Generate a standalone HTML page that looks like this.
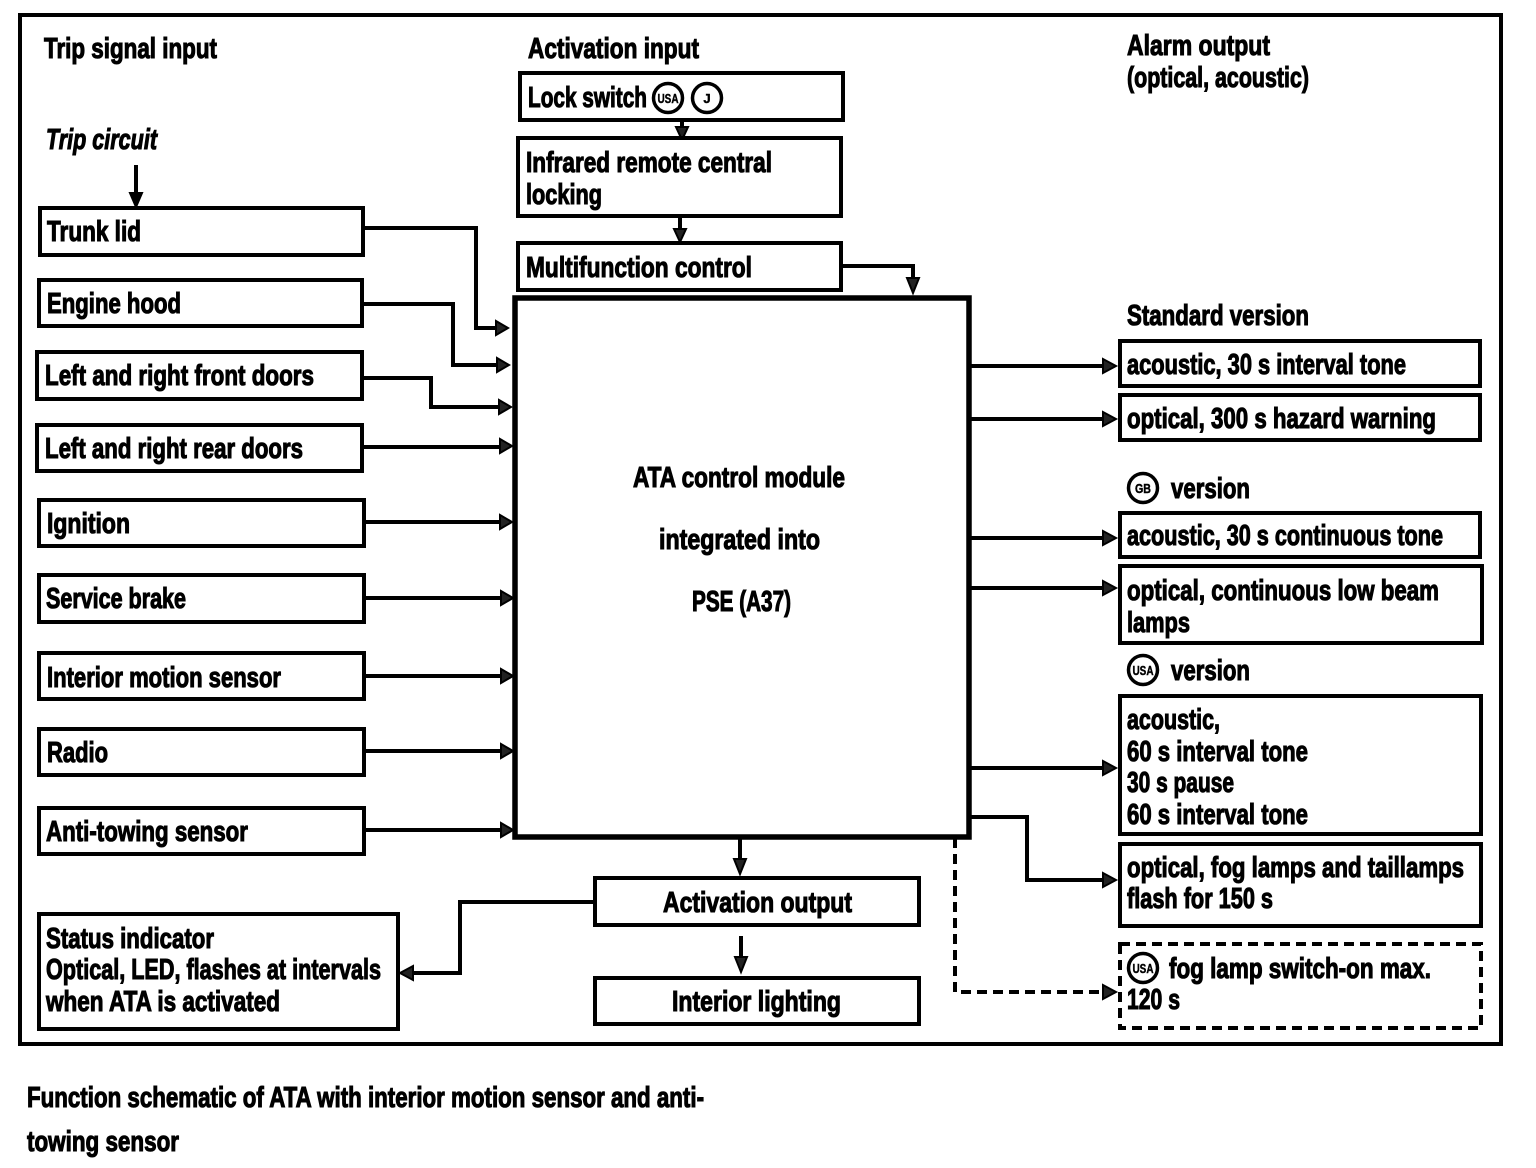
<!DOCTYPE html>
<html><head><meta charset="utf-8"><style>
html,body{margin:0;padding:0;background:#fff}
svg{display:block}
text{font-family:"Liberation Sans",sans-serif;font-weight:bold;font-size:29px;fill:#000;stroke:#000;stroke-width:1.1px}
.b{fill:#fff;stroke:#000;stroke-width:4}
.l{fill:none;stroke:#000;stroke-width:4}
.d{fill:none;stroke:#000;stroke-width:4;stroke-dasharray:10 6}
.a{fill:#222;stroke:#000;stroke-width:2}
.c{fill:#fff;stroke:#000;stroke-width:3.5}
.s{font-size:13px;stroke-width:.4px}
</style></head><body>
<svg width="1536" height="1168" viewBox="0 0 1536 1168" xmlns="http://www.w3.org/2000/svg">
<rect x="20" y="15" width="1481" height="1029" fill="#fff" stroke="#000" stroke-width="4"/>
<g class="conn">
<path class="l" d="M363 228H476V328H496"/>
<path class="l" d="M363 304H453V365H497"/>
<path class="l" d="M363 378H431V407H499"/>
<path class="l" d="M363 447H500"/>
<path class="l" d="M364 522H500"/>
<path class="l" d="M364 598H502"/>
<path class="l" d="M364 676H502"/>
<path class="l" d="M364 751H502"/>
<path class="l" d="M364 830H502"/>
<path class="l" d="M136 165V195"/>
<path class="l" d="M682 120V130"/>
<path class="l" d="M680 216V230"/>
<path class="l" d="M842 266H913V280"/>
<path class="l" d="M970 366H1104"/>
<path class="l" d="M970 419H1104"/>
<path class="l" d="M970 538H1104"/>
<path class="l" d="M970 588H1104"/>
<path class="l" d="M970 768H1104"/>
<path class="l" d="M970 817H1027V880H1104"/>
<path class="d" d="M955 838V992H1104"/>
<path class="l" d="M740 838V860"/>
<path class="l" d="M741 936V958"/>
<path class="l" d="M595 902H460V973H412"/>
</g>
<g>
<path d="M136 207l-6 -14h12z" fill="#000" stroke="#000" stroke-width="2"/>
<path class="a" d="M508 328l-12 -7v14z"/>
<path class="a" d="M509 365l-12 -7v14z"/>
<path class="a" d="M511 407l-12 -7v14z"/>
<path class="a" d="M512 446l-12 -7v14z"/>
<path class="a" d="M512 522l-12 -7v14z"/>
<path class="a" d="M513 598l-12 -7v14z"/>
<path class="a" d="M513 676l-12 -7v14z"/>
<path class="a" d="M513 751l-12 -7v14z"/>
<path class="a" d="M513 830l-12 -7v14z"/>
<path class="a" d="M682 140l-6 -13h12z"/>
<path class="a" d="M680 242l-6 -13h12z"/>
<path class="a" d="M913 293l-6 -15h12z"/>
<path class="a" d="M1116 366l-13 -7v14z"/>
<path class="a" d="M1116 419l-13 -7v14z"/>
<path class="a" d="M1116 538l-13 -7v14z"/>
<path class="a" d="M1116 588l-13 -7v14z"/>
<path class="a" d="M1116 768l-13 -7v14z"/>
<path class="a" d="M1116 880l-13 -7v14z"/>
<path class="a" d="M1116 992l-13 -7v14z"/>
<path class="a" d="M740 874l-6 -15h12z"/>
<path class="a" d="M741 972l-6 -15h12z"/>
<path class="a" d="M400 973l13 -7v14z"/>
</g>
<rect class="b" x="40" y="208" width="323" height="47"/>
<rect class="b" x="39" y="280" width="323" height="46"/>
<rect class="b" x="37" y="352" width="325" height="47"/>
<rect class="b" x="37" y="425" width="325" height="46"/>
<rect class="b" x="39" y="500" width="325" height="46"/>
<rect class="b" x="39" y="575" width="325" height="47"/>
<rect class="b" x="39" y="653" width="325" height="46"/>
<rect class="b" x="39" y="729" width="325" height="46"/>
<rect class="b" x="39" y="808" width="325" height="46"/>
<rect class="b" x="39" y="914" width="359" height="115"/>
<rect class="b" x="520" y="73" width="323" height="47"/>
<rect class="b" x="518" y="138" width="323" height="78"/>
<rect class="b" x="518" y="243" width="323" height="47"/>
<rect x="515" y="298" width="454" height="539" fill="#fff" stroke="#000" stroke-width="5.5"/>
<rect class="b" x="595" y="878" width="324" height="47"/>
<rect class="b" x="595" y="978" width="324" height="46"/>
<rect class="b" x="1120" y="341" width="360" height="45"/>
<rect class="b" x="1120" y="395" width="360" height="45"/>
<rect class="b" x="1120" y="513" width="360" height="44"/>
<rect class="b" x="1120" y="566" width="362" height="77"/>
<rect class="b" x="1120" y="696" width="361" height="138"/>
<rect class="b" x="1120" y="844" width="361" height="82"/>
<rect x="1120" y="944" width="361" height="84" fill="#fff" stroke="#000" stroke-width="4" stroke-dasharray="10 6"/>

<text x="44" y="58" textLength="173" lengthAdjust="spacingAndGlyphs">Trip signal input</text>
<text x="528" y="58" textLength="171" lengthAdjust="spacingAndGlyphs">Activation input</text>
<text x="1127" y="55" textLength="143" lengthAdjust="spacingAndGlyphs">Alarm output</text>
<text x="1127" y="87" textLength="182" lengthAdjust="spacingAndGlyphs">(optical, acoustic)</text>
<text x="46" y="149" textLength="111" lengthAdjust="spacingAndGlyphs" font-style="italic">Trip circuit</text>
<text x="47" y="241" textLength="94" lengthAdjust="spacingAndGlyphs">Trunk lid</text>
<text x="47" y="313" textLength="134" lengthAdjust="spacingAndGlyphs">Engine hood</text>
<text x="45" y="385" textLength="269" lengthAdjust="spacingAndGlyphs">Left and right front doors</text>
<text x="45" y="458" textLength="258" lengthAdjust="spacingAndGlyphs">Left and right rear doors</text>
<text x="47" y="533" textLength="83" lengthAdjust="spacingAndGlyphs">Ignition</text>
<text x="46" y="608" textLength="140" lengthAdjust="spacingAndGlyphs">Service brake</text>
<text x="47" y="687" textLength="234" lengthAdjust="spacingAndGlyphs">Interior motion sensor</text>
<text x="47" y="762" textLength="61" lengthAdjust="spacingAndGlyphs">Radio</text>
<text x="46" y="841" textLength="202" lengthAdjust="spacingAndGlyphs">Anti-towing sensor</text>
<text x="46" y="948" textLength="168" lengthAdjust="spacingAndGlyphs">Status indicator</text>
<text x="46" y="979" textLength="335" lengthAdjust="spacingAndGlyphs">Optical, LED, flashes at intervals</text>
<text x="46" y="1011" textLength="234" lengthAdjust="spacingAndGlyphs">when ATA is activated</text>
<text x="528" y="107" textLength="119" lengthAdjust="spacingAndGlyphs">Lock switch</text>
<circle class="c" cx="668" cy="98" r="14.5"/>
<text class="s" x="668" y="103" text-anchor="middle" textLength="21" lengthAdjust="spacingAndGlyphs">USA</text>
<circle class="c" cx="707" cy="98" r="14.5"/>
<text class="s" x="707" y="103" text-anchor="middle">J</text>
<text x="526" y="172" textLength="246" lengthAdjust="spacingAndGlyphs">Infrared remote central</text>
<text x="526" y="204" textLength="76" lengthAdjust="spacingAndGlyphs">locking</text>
<text x="526" y="277" textLength="226" lengthAdjust="spacingAndGlyphs">Multifunction control</text>
<text x="633" y="487" textLength="212" lengthAdjust="spacingAndGlyphs">ATA control module</text>
<text x="659" y="549" textLength="161" lengthAdjust="spacingAndGlyphs">integrated into</text>
<text x="692" y="611" textLength="99" lengthAdjust="spacingAndGlyphs">PSE (A37)</text>
<text x="663" y="912" textLength="189" lengthAdjust="spacingAndGlyphs">Activation output</text>
<text x="672" y="1011" textLength="169" lengthAdjust="spacingAndGlyphs">Interior lighting</text>
<text x="1127" y="325" textLength="182" lengthAdjust="spacingAndGlyphs">Standard version</text>
<text x="1127" y="374" textLength="279" lengthAdjust="spacingAndGlyphs">acoustic, 30 s interval tone</text>
<text x="1127" y="428" textLength="309" lengthAdjust="spacingAndGlyphs">optical, 300 s hazard warning</text>
<circle class="c" cx="1143" cy="488" r="14.5"/>
<text class="s" x="1143" y="493" text-anchor="middle" textLength="16" lengthAdjust="spacingAndGlyphs">GB</text>
<text x="1171" y="498" textLength="79" lengthAdjust="spacingAndGlyphs">version</text>
<text x="1127" y="545" textLength="316" lengthAdjust="spacingAndGlyphs">acoustic, 30 s continuous tone</text>
<text x="1127" y="600" textLength="312" lengthAdjust="spacingAndGlyphs">optical, continuous low beam</text>
<text x="1127" y="632" textLength="63" lengthAdjust="spacingAndGlyphs">lamps</text>
<circle class="c" cx="1143" cy="670" r="14.5"/>
<text class="s" x="1143" y="675" text-anchor="middle" textLength="21" lengthAdjust="spacingAndGlyphs">USA</text>
<text x="1171" y="680" textLength="79" lengthAdjust="spacingAndGlyphs">version</text>
<text x="1127" y="729" textLength="93" lengthAdjust="spacingAndGlyphs">acoustic,</text>
<text x="1127" y="761" textLength="181" lengthAdjust="spacingAndGlyphs">60 s interval tone</text>
<text x="1127" y="792" textLength="107" lengthAdjust="spacingAndGlyphs">30 s pause</text>
<text x="1127" y="824" textLength="181" lengthAdjust="spacingAndGlyphs">60 s interval tone</text>
<text x="1127" y="877" textLength="337" lengthAdjust="spacingAndGlyphs">optical, fog lamps and taillamps</text>
<text x="1127" y="908" textLength="146" lengthAdjust="spacingAndGlyphs">flash for 150 s</text>
<circle class="c" cx="1143" cy="968" r="14.5"/>
<text class="s" x="1143" y="973" text-anchor="middle" textLength="21" lengthAdjust="spacingAndGlyphs">USA</text>
<text x="1169" y="978" textLength="262" lengthAdjust="spacingAndGlyphs">fog lamp switch-on max.</text>
<text x="1127" y="1009" textLength="53" lengthAdjust="spacingAndGlyphs">120 s</text>
<text x="27" y="1107" textLength="677" lengthAdjust="spacingAndGlyphs">Function schematic of ATA with interior motion sensor and anti-</text>
<text x="27" y="1151" textLength="152" lengthAdjust="spacingAndGlyphs">towing sensor</text>
</svg>
</body></html>
